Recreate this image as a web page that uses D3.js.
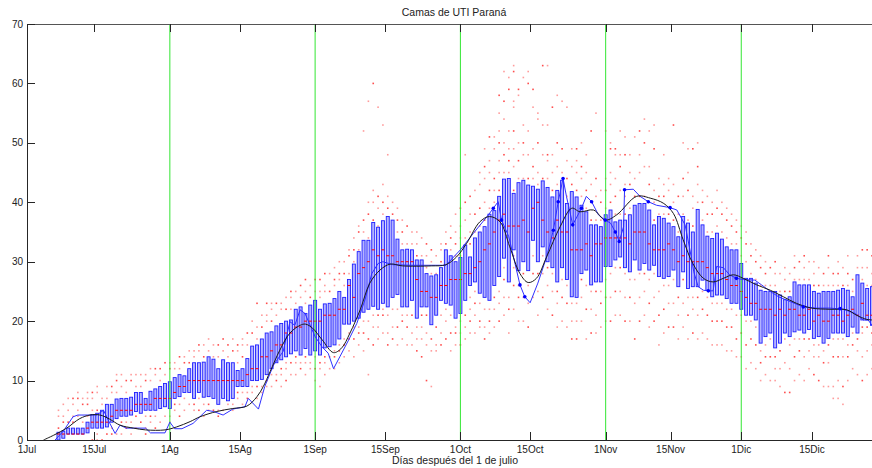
<!DOCTYPE html>
<html>
<head>
<meta charset="utf-8">
<script src="https://cdn.jsdelivr.net/npm/d3@7"></script>
<style>
body { margin: 0; background: #fff; }
text { font-family: "Liberation Sans", Arial, sans-serif; }
</style>
</head>
<body>
<div id="chart"></div>
<script>
// axis ticks (day index, labels)
var tickDays = [0.5, 14.4, 30, 44.5, 60, 74.5, 90, 104.4, 120, 133.4, 148, 162.6];
var tickLabels = ["1Jul","15Jul","1Ag","15Ag","1Sep","15Sep","1Oct","15Oct","1Nov","15Nov","1Dic","15Dic"];
var monthDays = [30, 60, 90, 120, 148];
var yTicks = [0, 10, 20, 30, 40, 50, 60, 70];

// daily boxes, first one at day 7
var firstDay = 7;
var boxLow = [0,0.3,1,1,1,1,1.2,2,2,2,
  2.2,3,3.6,4,4,4.2,4.8,4.5,5,5,
  5,5.3,5.6,5.3,7,7.3,8,8,7,8,
  7.2,7.3,7,6,7,6.6,7,9,9,9,
  10,10,10.2,11,12,13,13.5,14,14.5,15,
  14.3,15.4,14.3,15,14.3,15.5,15.7,16,17,19.5,
  19.5,20,20.5,21.5,22,22.5,22,23,22.4,24,
  24.5,22.4,22.4,23.5,20.5,22.4,22.4,19.4,21,23.5,
  23,22.7,20.5,21.3,23.5,26,26.6,24.7,24,23.5,
  26,27.5,30.6,26.6,32,28.5,30,28.5,33.6,30,
  32.5,30,29,26.6,29,27,24.1,24,28,28.6,
  26.1,26.6,26.6,29.2,29.2,30.3,30.8,29,28.3,30.3,
  28.6,29.7,28.6,29.4,27.5,27.2,27.5,28.6,25.8,28.3,
  25.5,25.8,25.8,26.9,25.2,24.1,24.4,24.4,23.8,23,
  23,22,21,21,20.2,16.3,17.4,18,15.5,16.3,
  18,17.4,18.2,18.5,18,18.6,17.1,17.4,16.3,17.1,
  18,18,18,17.4,19,18,20.2,20.2,19.3];
var boxHigh = [1.3,1.5,2,2,2,2,3,4.3,4.5,5,
  6,6,6.9,7,7,7.2,8,8,7,8.2,
  8.6,9,9.5,9.8,10.5,11,10.8,12,13,13,
  13.1,14,13.6,12,13.5,13,13,11.7,12,13.7,
  15.8,16,17,18,18.2,19.2,19.6,20,20.2,22,
  22.4,21.3,22.7,23.5,22,22.9,23,23.8,25,24,
  27,29.6,31.7,33.6,33.6,36.6,35.8,36.9,37.6,37,
  33.8,32,32.1,32,30.3,30.3,28,27.6,27.8,29,
  32,31,30,30.7,32.8,30.8,34,35,35.9,38,
  38.6,41,43.9,44,41.5,43.3,43.7,42.9,42.7,42.2,
  43.6,42.5,40.9,42,43.7,39.8,41.8,40.9,39.5,38.4,
  36.2,36.2,35.9,37.9,38.7,36.7,37,37,37.9,39.5,
  39.8,39.8,38.7,36.2,37.6,37.3,36.5,35.9,34.2,37.6,
  36.5,35,38.8,36.2,34.3,33.9,34.8,33.8,32.5,32,
  32,29.7,27.2,27.2,26.4,25.2,25,25,25,24.4,
  23.6,24.1,26.6,26.1,26.1,26.1,25,24.7,25,25,
  25,25.2,25.5,25.2,24.1,27.8,26.4,25.5,25.8];
var boxMed = [1,1,1,1,1,1,2,3,3,3,
  3,4,5,5,5,5,6,6,6,6,
  7,7,7,7,8,9,9,10,10,10,
  10,10,10,10,10,10,10,10,10,11,
  12,12,14,14,15,16,16,18,18,19,
  19,20,20,20,20,21,21,21,22,22,
  26,24,28,29,30,32,31,32,31,31,
  30,30,30,30,27,25,25,24,24,26,
  26,27,27,27,28,28,29,30,32,33,
  35,37,38,36,36,36,37,35,39,40,
  37,35,34,37,35,35,32,32,32,33,
  31,33,33,34,34,34,34,34,33,35,
  35,35,33,32,32,32,33,32,30,31,
  30,30,30,30,29,28,28,28,27,26,
  26,25,24,23,23,22,22,22,21,22,
  21,22,22,21,21,22,20,21,20,20,
  21,21,20,21,22,21,23,21,21];

// scattered simulation values per day ("day:values")
var dotCols = [
  "7:2 4 5","8:3 4 6","9:3 5 7","10:3 4 6 7","11:4 5 7 8","12:3 6 7",
  "13:4 6 7 8","14:0 5 7 8","15:0 1 5 8 9","16:0 6 7","17:1 7 9","18:1 2 8 9",
  "19:1 8 10 11","20:1 3 9 11","21:2 3 8 10","22:1 3 10 11","23:2 4 9 11",
  "24:3 9 11","25:1 2 4 10 11","26:3 4 10 12","27:2 4 11 12","28:3 10 12",
  "29:4 11 13","30:3 4 12 13","31:5 6 12 13","32:4 6 12 14","33:5 7 13 14",
  "34:6 13 15","35:5 6 14 15","36:5 7 15 16","37:4 6 14 16","38:5 6 15 17",
  "39:5 14 16","40:4 5 14 16","41:5 15 17","42:6 14 16","43:5 6 15 17",
  "44:7 8 13 15 16","45:6 8 14 16 17","46:7 8 16 18","47:8 9 18 20",
  "48:7 9 17 19 23","49:8 9 19 21","50:9 10 20 21 23","51:9 11 20 22 23",
  "52:10 11 21 23","53:9 11 12 22 23","54:10 12 13 22 24",
  "55:11 13 22 24 25","56:11 13 14 23 25","57:12 13 24 26",
  "58:11 13 14 23 25 27","59:12 13 24 26","60:10 12 14 25 27",
  "61:9 12 13 24 25 27","62:11 13 14 25 26 28","63:12 14 25 28",
  "64:12 14 15 26 27 29","65:13 15 16 27 28 30","66:14 16 17 26 28 30",
  "67:15 17 18 28 31 32","68:14 17 19 30 32 34","69:16 18 19 32 35 36",
  "70:15 18 20 35 37 52","71:11 17 20 34 38 40 57","72:16 19 21 37 40 42 60",
  "73:17 19 21 36 39 41 56","74:18 21 22 38 40 43 53","75:16 18 21 39 41 48",
  "76:17 19 22 38 40","77:16 19 22 35 37 39","78:17 20 21 33 35 37",
  "79:16 19 21 33 36","80:16 18 21 33 35","81:15 17 19 31 33 35",
  "82:14 17 19 21 31 34","83:10 16 18 21 29 31 33","84:9 15 17 28 30 32",
  "85:15 16 19 28 31","86:16 18 21 30 32 33","87:17 20 22 33 35",
  "88:15 18 21 32 34 36","89:16 18 19 31 33 35 38","90:16 18 20 31 34 36 39",
  "91:17 19 21 34 37 40 48","92:18 20 22 24 33 35 38 41",
  "93:18 21 23 25 35 38 42","94:19 20 23 36 39 43 45","95:17 19 22 37 40 44 46 49",
  "96:18 20 22 39 42 45 47 51","97:19 22 24 40 42 44 49 51",
  "98:20 23 25 42 45 47 50 52 55 58","99:21 24 27 29 45 48 50 54 57 62",
  "100:18 22 24 45 47 49 52 59 61","101:22 26 29 31 42 46 49 52 56 57 62 63",
  "102:20 24 26 44 47 50 58 59","103:20 24 28 44 48 50 53 61",
  "104:19 23 26 44 48 52 60 62","105:24 28 31 44 46 49 56 59",
  "106:21 25 28 43 45 50 54 55","107:24 28 31 44 48 53 63",
  "108:22 26 29 44 47 48 53 63","109:21 25 28 42 45 48 56","110:19 23 25 43 46 50 58",
  "111:20 24 27 45 49 57","112:19 23 26 41 44 47 56","113:17 20 23 43 46 49",
  "114:17 20 23 42 45 47 49","115:20 24 27 41 44 46 50","116:17 22 26 39 42 45 48",
  "117:18 22 25 37 40 43 52","118:18 21 25 37 41 44 55","119:19 23 25 37 40 42",
  "120:20 24 27 39 42 44 52","121:20 24 28 40 43 45 49 50","122:21 25 29 38 41 44 48 49",
  "123:21 25 29 38 42 46 48 52","124:20 24 28 38 41 43 48 51","125:20 24 27 39 43 45 48",
  "126:17 23 27 41 44 51","127:20 24 28 41 45 48 52","128:21 25 28 41 46 50 54",
  "129:19 23 27 40 43 46 52","130:20 24 28 37 40 42 49 53","131:16 21 25 38 41 44",
  "132:18 22 26 38 41 43 48","133:19 23 26 38 42 44","134:19 23 27 37 40 43 53",
  "135:17 21 24 35 38 41","136:19 23 27 38 41 44 50","137:17 21 24 37 42 45 49",
  "138:18 22 24 36 39 41 49","139:17 21 24 40 43 46 50","140:18 22 25 37 40 42",
  "141:17 21 24 35 38 41","142:16 20 23 35 38 40","143:16 20 23 36 39 42",
  "144:16 20 23 35 38 40","145:15 19 22 34 37 39","146:15 19 22 33 36 38",
  "147:14 17 21 33 35 37","148:14 18 21 31 34 36","149:12 16 20 30 33 35",
  "150:13 17 20 28 31 33","151:12 16 19 27 30 32","152:10 13 15 26 29 31",
  "153:11 14 16 26 28 30","154:10 14 17 26 29","155:10 12 14 26 28 30",
  "156:9 12 15 25 28","157:8 13 17 25 27 29","158:8 12 16 25 28",
  "159:10 14 17 27 29 31","160:11 15 17 27 30","161:10 14 17 27 29 31",
  "162:12 15 17 27 30","163:11 14 16 26 28 30","164:10 14 16 26 29",
  "165:9 13 15 26 28","166:9 13 16 26 29 31","167:7 9 14 17 26 28",
  "168:7 10 14 17 26 28 30","169:6 9 14 17 26 29","170:10 14 16 26 28 31",
  "171:12 16 18 25 27","172:11 15 17 29 31","173:10 14 18 19 27 29 32",
  "174:11 15 19 26 29 32","175:12 16 18 26 28 31"
];

// reported series [day, value]
var blueLine = [[6.3,0],[8,1.5],[10,3.9],[11,4.2],[14.9,4.2],[16.3,5],[17.6,2.8],[18.7,1.1],[19.7,2.5],
  [21,2],[25,2],[26,1.2],[29,1.2],[30,3],[31,1.9],[32.5,1.9],[34.8,2.8],[36.2,3.9],[37.6,5],[39,4.8],
  [41,4.2],[43,5.2],[45.5,5.6],[46.2,7],[48.3,5.2],[49.6,9],[51.4,12.6],[53.4,14.9],[54.8,19.9],
  [55.8,19.3],[56.9,21.9],[57.9,21.3],[60,17.4],[61.4,15.7],[62.7,14.6],[63.8,12],[65.1,14],
  [66.9,16.8],[68.6,19.6],[70.3,23.6],[71.7,28],[73,29.7],[74,30],[76,29.5],[80,29.4],[87,29.4],
  [90,32],[92.7,34.8],[95.8,37.9],[96.8,39],[97.8,40.1],[98.5,37],[100,34.2],[102.3,26.1],
  [103.3,24.1],[104.4,23.1],[106,26.4],[107.8,30.8],[109.2,35.3],[110.2,40.1],[111.2,44],
  [111.9,41],[113.2,36.2],[115,39],[116,41],[117.1,40.1],[118.5,37.9],[119.9,37],[121,36.5],
  [122,35],[122.8,33.4],[123.7,35.9],[123.9,42.1],[125.7,42.2],[127.1,41],[128.8,40.1],
  [130.5,39.5],[133.3,39.1],[134.7,38.7],[136.4,36.2],[137.4,32],[138.2,28.3],[139.1,25.8],
  [140.2,25.2],[141.2,25.1],[142.2,25.1],[142.9,29.2],[144.3,29],[145.6,27.8],[147,27.2],
  [148.4,27],[150.8,26.9],[152.2,26.1],[154,25],[155.7,24.1],[158.1,23.3],[160.8,22.4],
  [163.5,22.2],[166.3,22.2],[169.1,22],[171.5,21.3],[172.3,20.8],[173.2,20.2],[174.2,20.2],[175,19.3]];
var markDays = [96.8, 98.5, 102.3, 103.3, 109.2, 110.2, 111.2, 113.2, 115, 117.1, 119.9, 122, 122.8,
  123.9, 128.8, 133.3, 141.2, 147, 160.8, 168.4];
var markVals = [39, 37, 26.1, 24.1, 35.3, 40.1, 44, 36.2, 39, 40.1, 37, 35, 33.4,
  42.1, 40.1, 39.1, 25.1, 27.2, 22.4, 22.1];

// smoothed series [day, value]
var smoothLine = [[3.9,0],[6,0.8],[8.7,2],[11.4,3.6],[13.5,4.2],[15.6,4.2],[17.6,3.5],[19.7,2.5],
  [22.5,2],[25,1.7],[29,1.7],[31.4,2.2],[34.2,3.1],[36.2,3.9],[39.7,4.8],[43,5.3],[45.9,5.7],
  [48,7.3],[49.3,9],[50.7,11.5],[52.7,15.1],[54.8,18],[56.9,19.3],[58,19.5],[59.5,18.8],[61.5,16.8],
  [63.8,14.7],[65.5,15.5],[67.2,18],[69.3,21.9],[71.3,26.4],[73.4,28.6],[75.5,29.6],[78,29.3],
  [84,29.3],[87,29.5],[89.2,30.8],[91.3,33.1],[94,36.7],[96,37.6],[98.2,36.7],[100.2,32.5],
  [102.3,28],[104,26.5],[105.7,27.2],[107.8,30.8],[110.6,35.9],[113,39],[114.7,38.4],[117.5,38.7],
  [119.9,37],[122.3,37.9],[126.4,41],[129.2,40.7],[132,39.8],[134,38.1],[136,33.7],[138,29.7],
  [140.2,27.2],[142.2,26.6],[144.3,27.2],[146.4,27.8],[148.4,27.2],[151.2,26.1],[154,25.2],
  [156.7,24.1],[159.4,23],[162.5,22.2],[166.3,22],[169.8,21.9],[171.8,21],[173.9,20.3],[175,20.2]];

var W = 872, H = 468;
var L = 27, R = 872, T = 24, B = 440;

var svg = d3.select("#chart").append("svg")
  .attr("width", W).attr("height", H);

var x = d3.scaleLinear().domain([0.5, 175]).range([L, R]);
var y = d3.scaleLinear().domain([0, 70]).range([B, T]);

svg.append("defs").append("clipPath").attr("id", "plot")
  .append("rect").attr("x", L).attr("y", T).attr("width", R - L).attr("height", B - T);

var g = svg.append("g").attr("clip-path", "url(#plot)");

// scatter dots
var dots = [];
dotCols.forEach(function(s) {
  var p = s.split(":");
  var d = +p[0];
  p[1].split(" ").forEach(function(v) { dots.push([d, +v]); });
});
g.selectAll("rect.dot").data(dots).enter().append("rect")
  .attr("class", "dot")
  .attr("x", function(d) { return x(d[0]) - 0.8; })
  .attr("y", function(d) { return y(d[1]) - 0.8; })
  .attr("width", 1.6).attr("height", 1.6)
  .attr("fill", function(d, i) { return i % 3 === 0 ? "#ff4d4d" : "#ff9c9c"; });

// boxes
var boxes = boxLow.map(function(lo, i) {
  return { day: firstDay + i, lo: lo, hi: boxHigh[i], med: boxMed[i] };
});
g.selectAll("rect.box").data(boxes).enter().append("rect")
  .attr("class", "box")
  .attr("x", function(d) { return x(d.day) - 1.5; })
  .attr("y", function(d) { return y(d.hi); })
  .attr("width", 3)
  .attr("height", function(d) { return y(d.lo) - y(d.hi); })
  .attr("fill", "#b3b3ff")
  .attr("stroke", "#1f1fff")
  .attr("stroke-width", 0.9);

g.selectAll("line.med").data(boxes).enter().append("line")
  .attr("class", "med")
  .attr("x1", function(d) { return x(d.day) - 1.5; })
  .attr("x2", function(d) { return x(d.day) + 1.5; })
  .attr("y1", function(d) { return y(d.med); })
  .attr("y2", function(d) { return y(d.med); })
  .attr("stroke", "#ff0000").attr("stroke-width", 1);

// month separators
g.selectAll("line.month").data(monthDays).enter().append("line")
  .attr("class", "month")
  .attr("x1", function(d) { return x(d); }).attr("x2", function(d) { return x(d); })
  .attr("y1", T).attr("y2", B)
  .attr("stroke", "#33e633").attr("stroke-width", 1);

// lines
g.append("path").datum(blueLine)
  .attr("d", d3.line().x(function(d) { return x(d[0]); }).y(function(d) { return y(d[1]); }))
  .attr("fill", "none").attr("stroke", "#3030ff").attr("stroke-width", 1);

g.append("path").datum(smoothLine)
  .attr("d", d3.line().curve(d3.curveCatmullRom.alpha(0.5))
    .x(function(d) { return x(d[0]); }).y(function(d) { return y(d[1]); }))
  .attr("fill", "none").attr("stroke", "#1a1a1a").attr("stroke-width", 1);

g.selectAll("circle.mark").data(markDays).enter().append("circle")
  .attr("class", "mark")
  .attr("cx", function(d) { return x(d); })
  .attr("cy", function(d, i) { return y(markVals[i]); })
  .attr("r", 1.8).attr("fill", "#0000ff");

// axes
var ax = svg.append("g").attr("stroke", "#262626").attr("shape-rendering", "crispEdges");
ax.append("line").attr("x1", L).attr("x2", R).attr("y1", B + 0.5).attr("y2", B + 0.5);
ax.append("line").attr("x1", L).attr("x2", R).attr("y1", T + 0.5).attr("y2", T + 0.5).attr("stroke", "#555");
ax.append("line").attr("x1", L + 0.5).attr("x2", L + 0.5).attr("y1", T).attr("y2", B);

ax.selectAll("line.xb").data(tickDays).enter().append("line")
  .attr("x1", function(d) { return Math.round(x(d)) + 0.5; })
  .attr("x2", function(d) { return Math.round(x(d)) + 0.5; })
  .attr("y1", B).attr("y2", B - 8);
ax.selectAll("line.xt").data(tickDays).enter().append("line")
  .attr("x1", function(d) { return Math.round(x(d)) + 0.5; })
  .attr("x2", function(d) { return Math.round(x(d)) + 0.5; })
  .attr("y1", T).attr("y2", T + 8);
ax.selectAll("line.yl").data(yTicks).enter().append("line")
  .attr("x1", L).attr("x2", L + 8)
  .attr("y1", function(d) { return Math.round(y(d)) + 0.5; })
  .attr("y2", function(d) { return Math.round(y(d)) + 0.5; });

svg.selectAll("text.xl").data(tickDays).enter().append("text")
  .attr("x", function(d) { return x(d); })
  .attr("y", 453)
  .attr("text-anchor", "middle")
  .attr("font-size", 10).attr("fill", "#222")
  .text(function(d, i) { return tickLabels[i]; });

svg.selectAll("text.yl").data(yTicks).enter().append("text")
  .attr("x", 23)
  .attr("y", function(d) { return y(d) + 3.5; })
  .attr("text-anchor", "end")
  .attr("font-size", 10).attr("fill", "#222")
  .text(function(d) { return d; });

svg.append("text").attr("x", 454).attr("y", 16)
  .attr("text-anchor", "middle").attr("font-size", 10.5).attr("fill", "#222")
  .text("Camas de UTI Paraná");

svg.append("text").attr("x", 455).attr("y", 464)
  .attr("text-anchor", "middle").attr("font-size", 10.5).attr("fill", "#222")
  .text("Días después del 1 de julio");
</script>
</body>
</html>
